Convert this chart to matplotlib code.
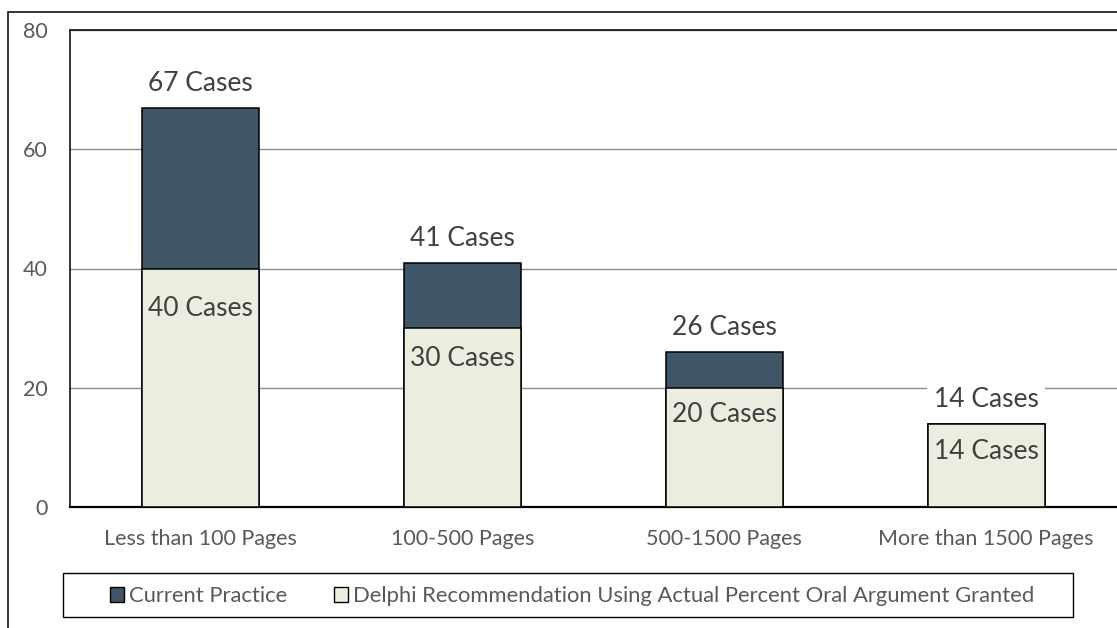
import matplotlib
matplotlib.use("Agg")
import matplotlib.pyplot as plt
from matplotlib.patches import Patch, Rectangle

plt.rcParams["font.family"] = ["Lato", "DejaVu Sans"]

# data
categories = ["Less than 100 Pages", "100-500 Pages", "500-1500 Pages", "More than 1500 Pages"]
current_practice = [67, 41, 26, 14]
delphi_rec = [40, 30, 20, 14]
y_ticks = [0, 20, 40, 60, 80]
series_names = ["Current Practice",
                "Delphi Recommendation Using Actual Percent Oral Argument Granted"]

DARK = "#405565"
LIGHT = "#ebeedf"
LABEL_DARK = "#404040"
TICK_GREY = "#595959"

W, H = 1117, 628
PT = 72 / 100  # points per pixel at dpi 100

# how far the inner labels sit below each bar top (px), as in the reference
inner_drop_px = [28, 18, 14, 15]

fig = plt.figure(figsize=(W / 100, H / 100), dpi=100)
ax = fig.add_axes([70 / W, 1 - 507 / H, 1 - 70 / W, (507 - 30) / H])

x = list(range(len(categories)))
ax.bar(x, current_practice, width=0.447, color=DARK, edgecolor="black",
       linewidth=1.1, zorder=2)
ax.bar(x, delphi_rec, width=0.447, color=LIGHT, edgecolor="black",
       linewidth=1.1, zorder=3)

for i, (c, d) in enumerate(zip(current_practice, delphi_rec)):
    ax.annotate(f"{c} Cases", (i, c), xytext=(0, 24 * PT), textcoords="offset points",
                ha="center", va="center", fontsize=19, color=LABEL_DARK, zorder=4,
                bbox=dict(boxstyle="square,pad=0.25", fc="white", ec="none"))
    ax.annotate(f"{d} Cases", (i, d), xytext=(0, -inner_drop_px[i] * PT),
                textcoords="offset points", ha="center", va="top",
                fontsize=19, color=LABEL_DARK, zorder=4)

ax.set_xlim(-0.5, 3.5)
ax.set_ylim(0, 80)
ax.set_yticks(y_ticks)
ax.set_xticks(x)
ax.set_xticklabels(categories)
ax.tick_params(axis="both", length=0, labelsize=15.5, labelcolor=TICK_GREY)
ax.tick_params(axis="y", pad=16)
ax.tick_params(axis="x", pad=16)

ax.set_axisbelow(True)
ax.yaxis.grid(True, color="#8c8c8c", linewidth=1.0)
ax.spines["right"].set_visible(False)
ax.spines["left"].set_linewidth(1.1)
ax.spines["top"].set_linewidth(1.1)
ax.spines["bottom"].set_linewidth(1.6)

# legend with a hand-drawn frame (wide side padding like the original)
handles = [Patch(facecolor=DARK, edgecolor="black", linewidth=1.0),
           Patch(facecolor=LIGHT, edgecolor="black", linewidth=1.0)]
fig.legend(handles, series_names, loc="center",
           bbox_to_anchor=(572 / W, 1 - 596 / H), ncol=2, frameon=False,
           handlelength=0.64, handleheight=0.64, handletextpad=0.25,
           columnspacing=2.1, fontsize=15.8, labelcolor=TICK_GREY)
fig.add_artist(Rectangle((63 / W, 1 - 617 / H), (1073 - 63) / W, 44 / H,
                         transform=fig.transFigure, fill=False,
                         edgecolor="black", linewidth=1.0))

# outer chart border (runs off the right and bottom edges)
fig.add_artist(Rectangle((8 / W, -0.1), 1.2, 1.1 - 12 / H,
                         transform=fig.transFigure, fill=False,
                         edgecolor="black", linewidth=1.1))

fig.savefig("out.png", dpi=100)
